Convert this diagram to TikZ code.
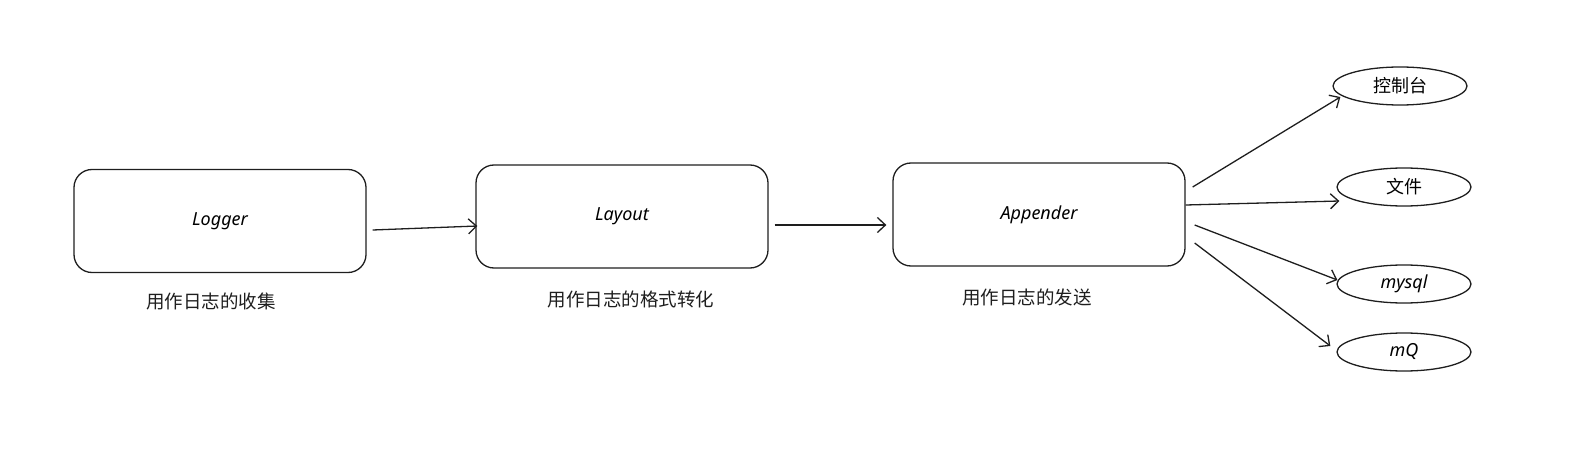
\documentclass[tikz,border=0pt]{standalone}
\usepackage{fontspec}
\setmainfont{Noto Sans}
\newfontfamily\cjk{Noto Sans CJK SC}
\usetikzlibrary{shapes.geometric,arrows.meta,calc}
\definecolor{ink}{HTML}{1E1E1E}
\tikzset{
  stage/.style={draw=ink, line width=1.3pt, rounded corners=18pt, minimum width=292pt, minimum height=103pt, inner sep=0pt, font=\itshape\fontsize{18}{21}\selectfont},
  target/.style={draw=ink, line width=1.3pt, ellipse, minimum width=134pt, minimum height=38pt, inner sep=0pt, font=\cjk\fontsize{18}{20}\selectfont},
  target2/.style={target, font=\itshape\fontsize{18}{21}\selectfont},
  caption/.style={font=\cjk\fontsize{18.5}{20}\selectfont, text=ink},
  flow/.style={draw=ink, line width=1.3pt, -{Straight Barb[length=8pt,width=15pt,line width=1.3pt]}}
}
\begin{document}
\begin{tikzpicture}[x=1pt,y=-1pt]
\useasboundingbox (0,0) rectangle (1573,449);
\node[stage] (logger) at (220,221) {Logger};
\node[stage] (layout) at (622,216.5) {Layout};
\node[stage] (appender) at (1039,214.5) {Appender};
\node[caption] (cap1) at (211,301) {用作日志的收集};
\node[caption] (cap2) at (631,299) {用作日志的格式转化};
\node[caption] (cap3) at (1027,297) {用作日志的发送};
\node[target] (console) at (1400,86) {控制台};
\node[target] (file) at (1404,187) {文件};
\node[target2] (mysql) at (1404,284) {mysql};
\node[target2] (mq) at (1404,352) {mQ};
\draw[flow] ($(logger.east)+(6,9)$) -- ($(layout.west)+(2,9.5)$);
\draw[flow] ($(layout.east)+(6,8.5)$) -- ($(appender.west)+(-6,10.5)$);
\draw[flow] ($(appender.east)+(7,-27.5)$) -- ($(console.west)+(8,11)$);
\draw[flow] ($(appender.east)+(0,-9.5)$) -- ($(file.west)+(3,14)$);
\draw[flow] ($(appender.east)+(9,10.5)$) -- ($(mysql.west)+(1,-4)$);
\draw[flow] ($(appender.east)+(9,28.5)$) -- ($(mq.west)+(-6,-6)$);
\end{tikzpicture}
\end{document}
